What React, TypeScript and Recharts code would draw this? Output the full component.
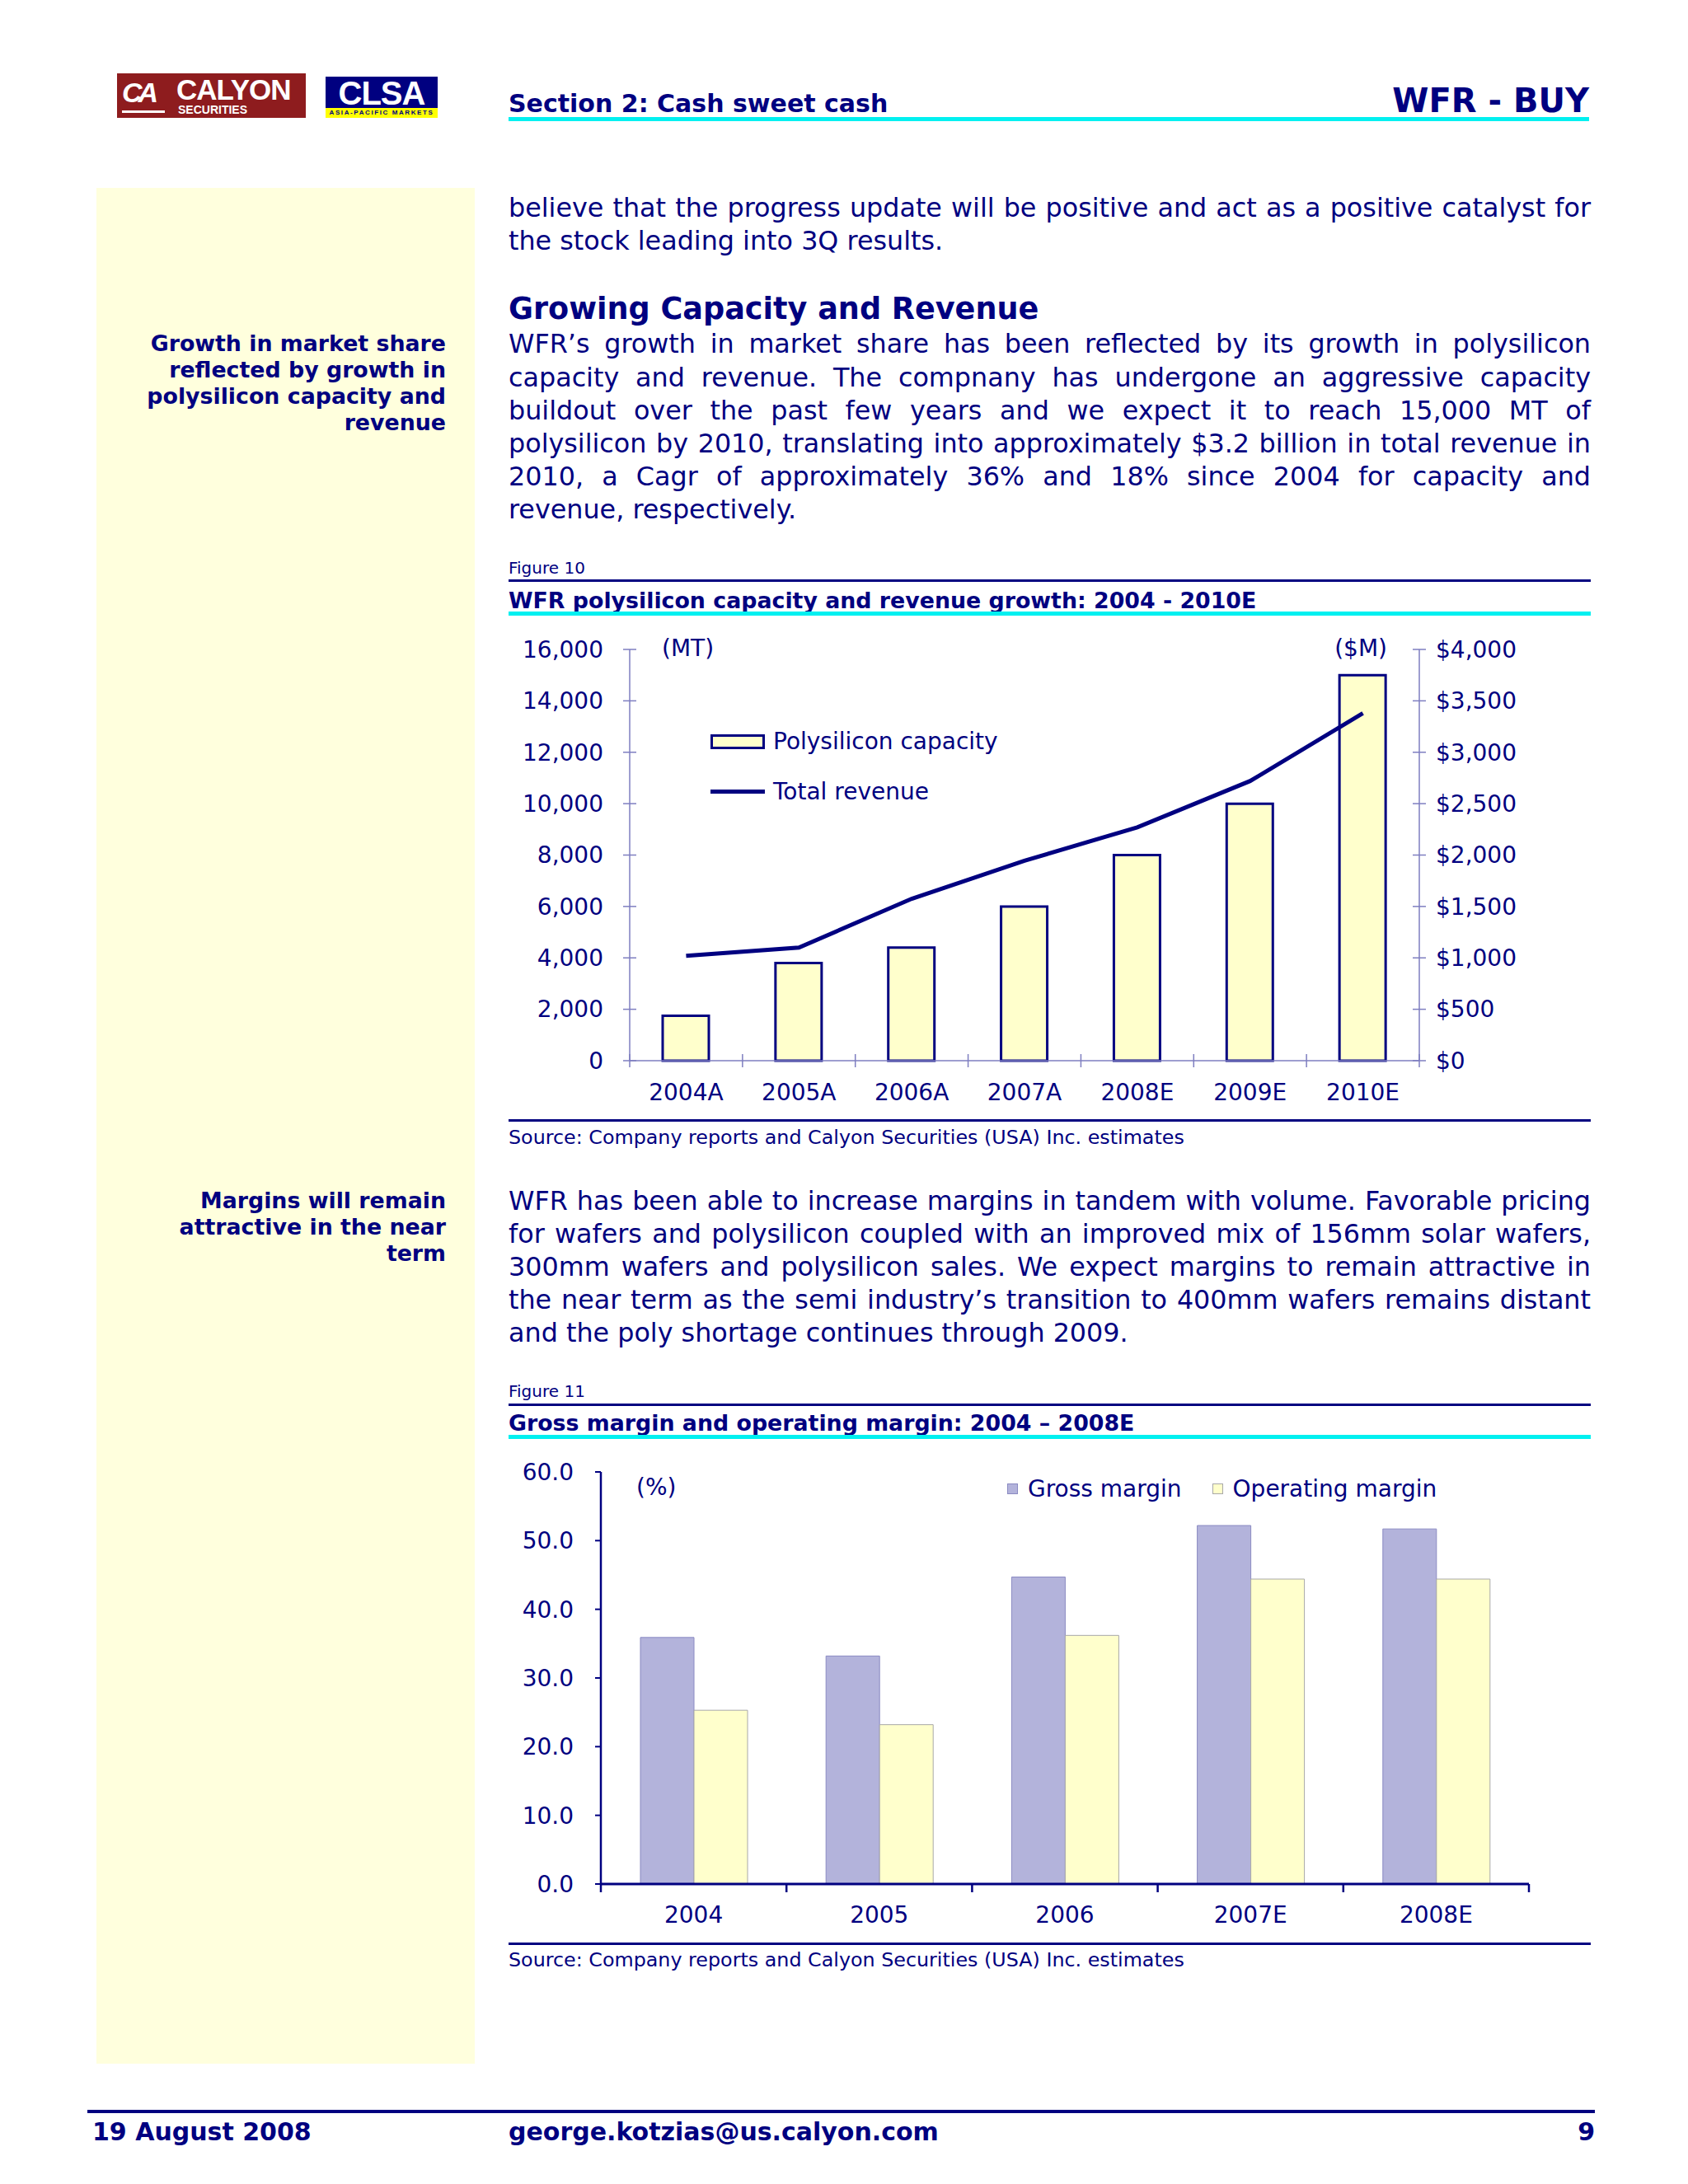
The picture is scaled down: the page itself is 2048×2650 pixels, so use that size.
import React from 'react';
import { ComposedChart, BarChart, Bar, Line, XAxis, YAxis, Legend } from 'recharts';

// ---------- data ----------
const capacityYears = ['2004A', '2005A', '2006A', '2007A', '2008E', '2009E', '2010E'];
const capacityMT = [1750, 3800, 4400, 6000, 8000, 10000, 15000];
const revenueM = [1020, 1100, 1575, 1945, 2270, 2720, 3380];
const capacityTicks = [0, 2000, 4000, 6000, 8000, 10000, 12000, 14000, 16000];
const revenueTicks = [0, 500, 1000, 1500, 2000, 2500, 3000, 3500, 4000];

const marginYears = ['2004', '2005', '2006', '2007E', '2008E'];
const grossMargin = [35.9, 33.2, 44.7, 52.2, 51.7];
const operatingMargin = [25.3, 23.2, 36.2, 44.4, 44.4];
const marginTicks = [0, 10, 20, 30, 40, 50, 60];

const introLines = [
  'believe that the progress update will be positive and act as a positive catalyst for',
  'the stock leading into 3Q results.',
];
const capacityParagraph = [
  'WFR\u2019s growth in market share has been reflected by its growth in polysilicon',
  'capacity and revenue. The compnany has undergone an aggressive capacity',
  'buildout over the past few years and we expect it to reach 15,000 MT of',
  'polysilicon by 2010, translating into approximately $3.2 billion in total revenue in',
  '2010, a Cagr of approximately 36% and 18% since 2004 for capacity and',
  'revenue, respectively.',
];
const marginParagraph = [
  'WFR has been able to increase margins in tandem with volume. Favorable pricing',
  'for wafers and polysilicon coupled with an improved mix of 156mm solar wafers,',
  '300mm wafers and polysilicon sales. We expect margins to remain attractive in',
  'the near term as the semi industry\u2019s transition to 400mm wafers remains distant',
  'and the poly shortage continues through 2009.',
];
const sideNote1 = ['Growth in market share', 'reflected by growth in', 'polysilicon capacity and', 'revenue'];
const sideNote2 = ['Margins will remain', 'attractive in the near', 'term'];

// ---------- style constants ----------
const NAVY = '#000080';
const CYAN = '#00F0F0';
const LAV = '#7E7EC0';
const FONT = '"DejaVu Sans", Verdana, sans-serif';
const LOGO_FONT = '"Liberation Sans", Arial, sans-serif';
const TEXT_L = 617;
const TEXT_W = 1313;

const capData = capacityYears.map((year, i) => ({ year, capacity: capacityMT[i], revenue: revenueM[i] }));
const marginData = marginYears.map((year, i) => ({ year, gross: grossMargin[i], operating: operatingMargin[i] }));

// chart 1 geometry
const C1_W = 1313;
const C1_H = 600;
const C1_LAX = 147;
const C1_RAX = 208;
const C1_BAND = (C1_W - C1_LAX - C1_RAX) / capacityYears.length;

// chart 2 geometry
const C2_W = 1313;
const C2_H = 590;
const C2_LAX = 112;
const C2_RM = 75;
const C2_BAND = (C2_W - C2_LAX - C2_RM) / marginYears.length;

const fmtNum = (v: number) => v.toLocaleString('en-US');

// ---------- helpers ----------
function TextLine({ cy, text, justify, size = 31.8, bold = false }: any) {
  const lh = 40;
  return (
    <div
      style={{
        position: 'absolute',
        left: TEXT_L,
        top: cy - lh / 2,
        width: TEXT_W,
        height: lh,
        lineHeight: lh + 'px',
        fontSize: size,
        fontWeight: bold ? 'bold' : 'normal',
        textAlign: justify ? 'justify' : 'left',
        textAlignLast: justify ? 'justify' : 'left',
        whiteSpace: 'normal',
      } as any}
    >
      {text}
    </div>
  );
}

function SideLine({ cy, text }: any) {
  return (
    <div
      style={{
        position: 'absolute',
        left: 117,
        width: 424,
        top: cy - 16,
        height: 32,
        lineHeight: '32px',
        fontSize: 26.8,
        fontWeight: 'bold',
        textAlign: 'right',
        whiteSpace: 'nowrap',
      }}
    >
      {text}
    </div>
  );
}

function Rule({ y, h, color, x1 = TEXT_L, x2 = TEXT_L + TEXT_W }: any) {
  return <div style={{ position: 'absolute', left: x1, top: y, width: x2 - x1, height: h, background: color }} />;
}

function Small({ cy, text, size, bold = false, left = TEXT_L }: any) {
  return (
    <div
      style={{
        position: 'absolute',
        left,
        top: cy - size * 0.7,
        lineHeight: size * 1.4 + 'px',
        fontSize: size,
        fontWeight: bold ? 'bold' : 'normal',
        whiteSpace: 'nowrap',
      }}
    >
      {text}
    </div>
  );
}

// ---------- chart 1 ticks ----------
const Cap1XTick = (props: any) => {
  const { x, y, payload, index } = props;
  const half = C1_BAND / 2;
  return (
    <g>
      <line x1={x - half} x2={x - half} y1={y - 8} y2={y + 8} stroke={LAV} strokeWidth={1.5} />
      {index === capacityYears.length - 1 && (
        <line x1={x + half} x2={x + half} y1={y - 8} y2={y + 8} stroke={LAV} strokeWidth={1.5} />
      )}
      <text x={x} y={y + 38} dy="0.35em" textAnchor="middle" fill={NAVY} fontSize={28} fontFamily={FONT}>
        {payload.value}
      </text>
    </g>
  );
};

const Cap1LeftTick = (props: any) => {
  const { x, y, payload } = props;
  return (
    <g>
      <line x1={x - 8} x2={x + 8} y1={y} y2={y} stroke={LAV} strokeWidth={1.5} />
      <text x={x - 32} y={y} dy="0.35em" textAnchor="end" fill={NAVY} fontSize={28} fontFamily={FONT}>
        {fmtNum(payload.value)}
      </text>
    </g>
  );
};

const Cap1RightTick = (props: any) => {
  const { x, y, payload } = props;
  return (
    <g>
      <line x1={x - 8} x2={x + 8} y1={y} y2={y} stroke={LAV} strokeWidth={1.5} />
      <text x={x + 20} y={y} dy="0.35em" textAnchor="start" fill={NAVY} fontSize={28} fontFamily={FONT}>
        {'$' + fmtNum(payload.value)}
      </text>
    </g>
  );
};

const Cap1Legend = (props: any) => {
  const { payload = [] } = props;
  return (
    <div style={{ fontFamily: FONT, fontSize: 28, color: NAVY }}>
      {payload.map((e: any, i: number) => (
        <div key={i} style={{ display: 'flex', alignItems: 'center', height: 61 }}>
          {e.type === 'line' ? (
            <div style={{ width: 66, height: 5, background: e.color }} />
          ) : (
            <div
              style={{
                width: 60,
                height: 12,
                background: e.payload?.fill || '#FFFFCC',
                border: '3px solid ' + NAVY,
              }}
            />
          )}
          <span style={{ marginLeft: 10 }}>{e.value}</span>
        </div>
      ))}
    </div>
  );
};

// ---------- chart 2 ticks ----------
const Mar2XTick = (props: any) => {
  const { x, y, payload, index } = props;
  const half = C2_BAND / 2;
  return (
    <g>
      <line x1={x - half} x2={x - half} y1={y} y2={y + 10} stroke={NAVY} strokeWidth={2.5} />
      {index === marginYears.length - 1 && (
        <line x1={x + half} x2={x + half} y1={y} y2={y + 10} stroke={NAVY} strokeWidth={2.5} />
      )}
      <text x={x} y={y + 37} dy="0.35em" textAnchor="middle" fill={NAVY} fontSize={28} fontFamily={FONT}>
        {payload.value}
      </text>
    </g>
  );
};

const Mar2Legend = (props: any) => {
  const { payload = [] } = props;
  return (
    <div style={{ display: 'flex', alignItems: 'center', fontFamily: FONT, fontSize: 28, color: NAVY, height: 36 }}>
      {payload.map((e: any, i: number) => (
        <div key={i} style={{ display: 'flex', alignItems: 'center', marginRight: 37 }}>
          <div
            style={{
              width: 11,
              height: 11,
              background: e.payload?.fill || e.color,
              border: '1px solid ' + (e.payload?.stroke || '#999'),
              marginRight: 12,
            }}
          />
          <span>{e.value}</span>
        </div>
      ))}
    </div>
  );
};

function CapacityChart() {
  return (
    <div style={{ position: 'absolute', left: TEXT_L, top: 760, width: C1_W, height: C1_H }}>
      <ComposedChart width={C1_W} height={C1_H} data={capData} margin={{ top: 28, right: 0, bottom: 23, left: 0 }}>
        <XAxis
          dataKey="year"
          height={50}
          axisLine={{ stroke: LAV, strokeWidth: 1.5 }}
          tickLine={false}
          tickSize={0}
          tickMargin={0}
          interval={0}
          tick={(p: any) => <Cap1XTick {...p} />}
        />
        <YAxis
          yAxisId="left"
          orientation="left"
          width={C1_LAX}
          domain={[0, 16000]}
          ticks={capacityTicks}
          interval={0}
          axisLine={{ stroke: LAV, strokeWidth: 1.5 }}
          tickLine={false}
          tickSize={0}
          tickMargin={0}
          tick={(p: any) => <Cap1LeftTick {...p} />}
        />
        <YAxis
          yAxisId="right"
          orientation="right"
          width={C1_RAX}
          domain={[0, 4000]}
          ticks={revenueTicks}
          interval={0}
          axisLine={{ stroke: LAV, strokeWidth: 1.5 }}
          tickLine={false}
          tickSize={0}
          tickMargin={0}
          tick={(p: any) => <Cap1RightTick {...p} />}
        />
        <Legend
          layout="vertical"
          align="center"
          verticalAlign="middle"
          content={(p: any) => <Cap1Legend {...p} />}
          wrapperStyle={{ left: 245, top: 109, width: 500, height: 122 }}
        />
        <Bar
          yAxisId="left"
          dataKey="capacity"
          name="Polysilicon capacity"
          fill="#FFFFCC"
          stroke={NAVY}
          strokeWidth={3}
          barSize={56}
          legendType="rect"
          isAnimationActive={false}
        />
        <Line
          yAxisId="right"
          dataKey="revenue"
          name="Total revenue"
          type="linear"
          stroke={NAVY}
          strokeWidth={5}
          dot={false}
          legendType="line"
          isAnimationActive={false}
        />
      </ComposedChart>
      <div style={{ position: 'absolute', left: 186, top: 7, fontSize: 28, lineHeight: '40px', whiteSpace: 'nowrap' }}>(MT)</div>
      <div style={{ position: 'absolute', left: 1000, width: 66, top: 7, fontSize: 28, lineHeight: '40px', textAlign: 'right', whiteSpace: 'nowrap' }}>($M)</div>
    </div>
  );
}

function MarginChart() {
  return (
    <div style={{ position: 'absolute', left: TEXT_L, top: 1770, width: C2_W, height: C2_H }}>
      <BarChart
        width={C2_W}
        height={C2_H}
        data={marginData}
        margin={{ top: 16, right: C2_RM, bottom: 14, left: 0 }}
        barGap={0}
      >
        <XAxis
          dataKey="year"
          height={60}
          axisLine={{ stroke: NAVY, strokeWidth: 3 }}
          tickLine={false}
          tickSize={0}
          tickMargin={0}
          interval={0}
          tick={(p: any) => <Mar2XTick {...p} />}
        />
        <YAxis
          width={C2_LAX}
          domain={[0, 60]}
          ticks={marginTicks}
          interval={0}
          axisLine={{ stroke: NAVY, strokeWidth: 2.5 }}
          tickLine={{ stroke: NAVY, strokeWidth: 2 }}
          tickSize={7}
          tickMargin={26}
          tick={{ fill: NAVY, fontSize: 28, fontFamily: FONT }}
          tickFormatter={(v: number) => v.toFixed(1)}
        />
        <Legend
          layout="horizontal"
          align="center"
          verticalAlign="middle"
          content={(p: any) => <Mar2Legend {...p} />}
          wrapperStyle={{ left: 605, top: 18, width: 700, height: 36 }}
        />
        <Bar dataKey="gross" name="Gross margin" fill="#B3B3DB" stroke="#8A8AC2" strokeWidth={1} barSize={65} isAnimationActive={false} />
        <Bar dataKey="operating" name="Operating margin" fill="#FFFFCC" stroke="#A8A8A8" strokeWidth={1} barSize={65} isAnimationActive={false} />
      </BarChart>
      <div style={{ position: 'absolute', left: 155, top: 15, fontSize: 28, lineHeight: '40px', whiteSpace: 'nowrap' }}>(%)</div>
    </div>
  );
}

function Logos() {
  return (
    <>
      <div style={{ position: 'absolute', left: 142, top: 89, width: 229, height: 54, background: '#8E1C1E', color: '#fff' }}>
        <div style={{ position: 'absolute', left: 6, top: 4, fontSize: 34, lineHeight: '38px', fontWeight: 'bold', fontStyle: 'italic', letterSpacing: -5, fontFamily: LOGO_FONT }}>CA</div>
        <div style={{ position: 'absolute', left: 6, top: 45, width: 52, height: 3, background: '#fff' }} />
        <div style={{ position: 'absolute', left: 72, top: 2, fontSize: 35, lineHeight: '36px', fontWeight: 'bold', letterSpacing: -1, fontFamily: LOGO_FONT, whiteSpace: 'nowrap' }}>CALYON</div>
        <div style={{ position: 'absolute', left: 74, top: 36, fontSize: 14, lineHeight: '16px', fontWeight: 'bold', fontFamily: LOGO_FONT, whiteSpace: 'nowrap' }}>SECURITIES</div>
      </div>
      <div style={{ position: 'absolute', left: 395, top: 93, width: 136, height: 38, background: NAVY, color: '#fff', textAlign: 'center', lineHeight: '40px', fontSize: 40, fontWeight: 'bold', fontFamily: LOGO_FONT, letterSpacing: -1 }}>CLSA</div>
      <div style={{ position: 'absolute', left: 395, top: 131, width: 136, height: 12, background: '#FFFF00', color: NAVY, textAlign: 'center', lineHeight: '12px', fontSize: 8, fontWeight: 'bold', letterSpacing: 1.6, fontFamily: LOGO_FONT, whiteSpace: 'nowrap' }}>ASIA-PACIFIC MARKETS</div>
    </>
  );
}

export default function App() {
  const paraStart = 417.4;
  const step = 40.2;
  const mStart = 1456.6;
  return (
    <div
      style={{
        position: 'absolute',
        left: 0,
        top: 0,
        width: 2048,
        height: 2650,
        background: '#FFFFFF',
        fontFamily: FONT,
        color: NAVY,
        overflow: 'hidden',
      }}
    >
      {/* sidebar */}
      <div style={{ position: 'absolute', left: 117, top: 228, width: 459, height: 2276, background: '#FFFFDD' }} />

      {/* header */}
      <Logos />
      <Small cy={126} text="Section 2: Cash sweet cash" size={30} bold />
      <div style={{ position: 'absolute', left: 1500, width: 428, top: 98, lineHeight: '48px', fontSize: 40, fontWeight: 'bold', textAlign: 'right', whiteSpace: 'nowrap' }}>
        WFR - BUY
      </div>
      <Rule y={142} h={5} color={CYAN} x2={1928} />

      {/* intro text */}
      {introLines.map((t, i) => (
        <TextLine key={'i' + i} cy={251.8 + i * step} text={t} justify={i < introLines.length - 1} />
      ))}

      <Small cy={375} text="Growing Capacity and Revenue" size={36.6} bold />

      {capacityParagraph.map((t, i) => (
        <TextLine key={'c' + i} cy={paraStart + i * step} text={t} justify={i < capacityParagraph.length - 1} />
      ))}
      {sideNote1.map((t, i) => (
        <SideLine key={'s' + i} cy={417 + i * 32.1} text={t} />
      ))}

      {/* figure 10 */}
      <Small cy={689.4} text="Figure 10" size={20} />
      <Rule y={703} h={3} color={NAVY} />
      <Small cy={728.3} text="WFR polysilicon capacity and revenue growth: 2004 - 2010E" size={26.8} bold />
      <Rule y={742} h={5} color={CYAN} />
      <CapacityChart />
      <Rule y={1358} h={3} color={NAVY} />
      <Small cy={1380.6} text="Source: Company reports and Calyon Securities (USA) Inc. estimates" size={23.8} />

      {/* margin text */}
      {marginParagraph.map((t, i) => (
        <TextLine key={'m' + i} cy={mStart + i * step} text={t} justify={i < marginParagraph.length - 1} />
      ))}
      {sideNote2.map((t, i) => (
        <SideLine key={'t' + i} cy={1456.6 + i * 32.1} text={t} />
      ))}

      {/* figure 11 */}
      <Small cy={1688} text="Figure 11" size={20} />
      <Rule y={1703} h={3} color={NAVY} />
      <Small cy={1727} text={'Gross margin and operating margin: 2004 \u2013 2008E'} size={26.8} bold />
      <Rule y={1741} h={5} color={CYAN} />
      <MarginChart />
      <Rule y={2357} h={3} color={NAVY} />
      <Small cy={2379} text="Source: Company reports and Calyon Securities (USA) Inc. estimates" size={23.8} />

      {/* footer */}
      <Rule y={2560} h={4} color={NAVY} x1={106} x2={1935} />
      <Small cy={2587} text="19 August 2008" size={30} bold left={112} />
      <Small cy={2587} text="george.kotzias@us.calyon.com" size={30} bold />
      <div style={{ position: 'absolute', left: 1800, width: 135, top: 2566, lineHeight: '42px', fontSize: 30, fontWeight: 'bold', textAlign: 'right' }}>9</div>
    </div>
  );
}
